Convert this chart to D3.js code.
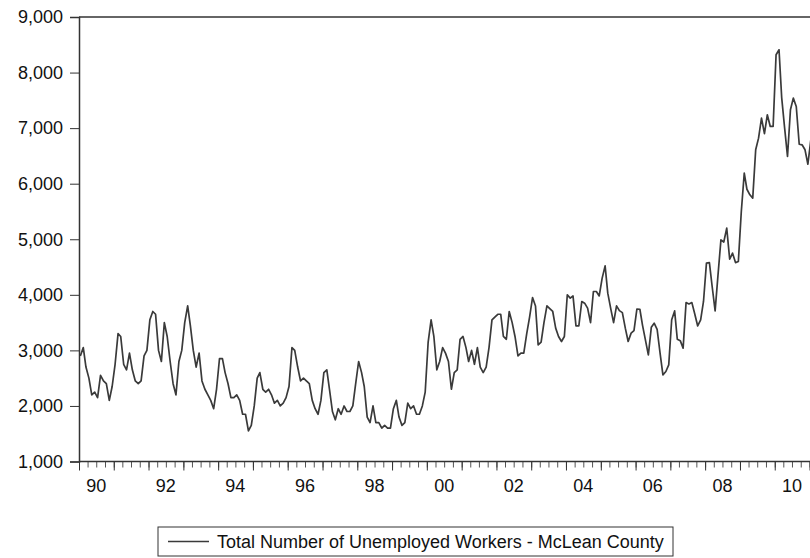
<!DOCTYPE html>
<html>
<head>
<meta charset="utf-8">
<script src="https://cdn.jsdelivr.net/npm/d3@7"></script>
<style>
  body { margin: 0; background: #fff; }
  svg { display: block; font-family: "Liberation Sans", Arial, sans-serif; }
</style>
</head>
<body>
<div id="chart"></div>
<script>
// monthly values, Jan 1990 onward (one row per year)
const startYear = 1990;
const unemployed = [
  2900, 3050, 2700, 2500, 2200, 2250, 2150, 2550, 2450, 2400, 2100, 2350, // 1990
  2750, 3300, 3250, 2750, 2650, 2950, 2650, 2450, 2400, 2450, 2900, 3000, // 1991
  3550, 3700, 3650, 3000, 2800, 3500, 3250, 2800, 2400, 2200, 2800, 3000, // 1992
  3500, 3800, 3450, 3000, 2700, 2950, 2450, 2300, 2200, 2100, 1950, 2300, // 1993
  2850, 2850, 2600, 2400, 2150, 2150, 2200, 2100, 1850, 1850, 1550, 1650, // 1994
  2000, 2500, 2600, 2300, 2250, 2300, 2200, 2050, 2100, 2000, 2050, 2150, // 1995
  2350, 3050, 3000, 2700, 2450, 2500, 2450, 2400, 2100, 1950, 1850, 2100, // 1996
  2600, 2650, 2300, 1900, 1750, 1950, 1850, 2000, 1900, 1900, 2000, 2400, // 1997
  2800, 2600, 2350, 1800, 1700, 2000, 1700, 1700, 1600, 1650, 1600, 1600, // 1998
  1950, 2100, 1800, 1650, 1700, 2050, 1950, 2000, 1850, 1850, 2000, 2250, // 1999
  3150, 3550, 3250, 2650, 2800, 3050, 2950, 2800, 2300, 2600, 2650, 3200, // 2000
  3250, 3050, 2800, 3000, 2750, 3050, 2700, 2600, 2700, 3050, 3550, 3600, // 2001
  3650, 3650, 3250, 3200, 3700, 3500, 3250, 2900, 2950, 2950, 3300, 3600, // 2002
  3950, 3800, 3100, 3150, 3500, 3800, 3750, 3700, 3400, 3250, 3160, 3250, // 2003
  4000, 3940, 3980, 3440, 3440, 3880, 3850, 3760, 3500, 4060, 4060, 3980, // 2004
  4300, 4520, 4030, 3750, 3500, 3800, 3715, 3680, 3400, 3160, 3310, 3355, // 2005
  3745, 3740, 3450, 3180, 2920, 3415, 3490, 3380, 2950, 2560, 2620, 2740, // 2006
  3550, 3710, 3200, 3175, 3040, 3860, 3835, 3860, 3650, 3440, 3550, 3880, // 2007
  4570, 4580, 4150, 3710, 4350, 4990, 4950, 5200, 4640, 4750, 4580, 4600, // 2008
  5500, 6190, 5900, 5800, 5740, 6610, 6820, 7180, 6900, 7240, 7030, 7030, // 2009
  8320, 8410, 7550, 7000, 6490, 7330, 7540, 7390, 6710, 6700, 6610, 6350, // 2010
  6790                                                                    // 2011
];
const yTicks = [1000, 2000, 3000, 4000, 5000, 6000, 7000, 8000, 9000];
const labelYears = [1990, 1992, 1994, 1996, 1998, 2000, 2002, 2004, 2006, 2008, 2010];
const legendLabel = "Total Number of Unemployed Workers - McLean County";

const width = 810, height = 558;
const plotLeft = 79, plotRight = 809.5, plotTop = 17, plotBottom = 461.5;
const ink = "#333";

const data = unemployed.map((v, i) => ({
  date: new Date(startYear, i, 15),
  value: v
}));

const x = d3.scaleTime()
  .domain([new Date(1990, 0, 1), new Date(2011, 0, 1)])
  .range([plotLeft, plotRight]);
const y = d3.scaleLinear()
  .domain([1000, 9000])
  .range([plotBottom, plotTop]);

const svg = d3.select("#chart").append("svg")
  .attr("width", width)
  .attr("height", height);

// frame: top edge (right edge falls just off the picture)
svg.append("line")
  .attr("x1", plotLeft).attr("x2", width + 5)
  .attr("y1", plotTop).attr("y2", plotTop)
  .attr("stroke", ink).attr("stroke-width", 1.5);

// y axis
const yAxis = svg.append("g")
  .attr("transform", `translate(${plotLeft},0)`)
  .call(d3.axisLeft(y).tickValues(yTicks).tickSize(9).tickPadding(7)
    .tickFormat(d3.format(",")));
yAxis.select(".domain").attr("stroke", ink).attr("stroke-width", 1.5);
yAxis.selectAll(".tick line").attr("stroke", ink);
yAxis.selectAll(".tick text")
  .attr("font-size", 18).attr("fill", "#111")
  .attr("font-family", "Liberation Sans, Arial, sans-serif");

// x axis: quarter minor ticks, yearly major ticks
const xMinor = svg.append("g")
  .attr("transform", `translate(0,${plotBottom})`)
  .call(d3.axisBottom(x).ticks(d3.timeMonth.every(3)).tickSize(6).tickFormat(""));
xMinor.select(".domain").remove();
xMinor.selectAll(".tick line").attr("stroke", "#555");

const xMajor = svg.append("g")
  .attr("transform", `translate(0,${plotBottom})`)
  .call(d3.axisBottom(x).ticks(d3.timeYear.every(1)).tickSize(9).tickFormat(""));
xMajor.select(".domain").attr("stroke", ink).attr("stroke-width", 1.5)
  .attr("d", `M${plotLeft},0H${width + 5}`);
xMajor.selectAll(".tick line").attr("stroke", ink);

// year labels sit mid-year
svg.append("g")
  .selectAll("text")
  .data(labelYears)
  .join("text")
  .attr("x", (d) => x(new Date(d, 6, 1)))
  .attr("y", plotBottom + 30)
  .attr("text-anchor", "middle")
  .attr("font-size", 18)
  .attr("fill", "#111")
  .text((d) => d3.timeFormat("%y")(new Date(d, 0, 1)));

// series
svg.append("path")
  .datum(data)
  .attr("fill", "none")
  .attr("stroke", "#3a3a3a")
  .attr("stroke-width", 1.7)
  .attr("stroke-linejoin", "round")
  .attr("d", d3.line().x((d) => x(d.date)).y((d) => y(d.value)));

// legend
const legend = svg.append("g").attr("transform", "translate(158,527)");
legend.append("rect")
  .attr("width", 515).attr("height", 29)
  .attr("fill", "#fff").attr("stroke", ink).attr("stroke-width", 1);
legend.append("line")
  .attr("x1", 10).attr("x2", 51).attr("y1", 14.5).attr("y2", 14.5)
  .attr("stroke", "#3a3a3a").attr("stroke-width", 1.5);
legend.append("text")
  .attr("x", 59).attr("y", 21)
  .attr("font-size", 18).attr("fill", "#111")
  .text(legendLabel);
</script>
</body>
</html>
